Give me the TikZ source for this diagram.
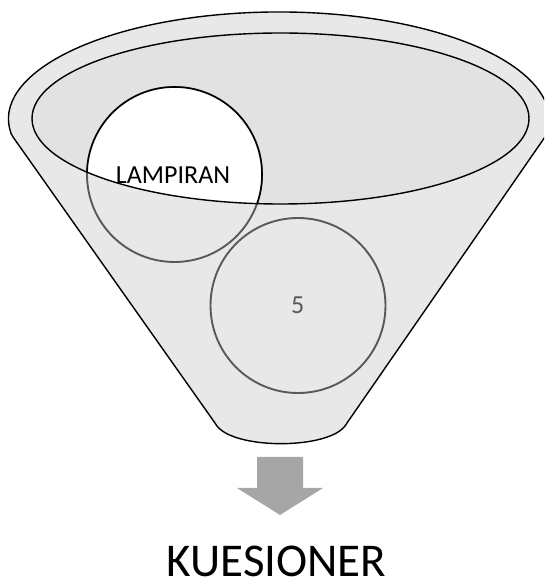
\documentclass[tikz,border=0pt]{standalone}
\usepackage{fontspec}
\setmainfont{Carlito}
\definecolor{funnelfill}{HTML}{E8E8E8}
\definecolor{mouthfill}{HTML}{E2E2E2}
\definecolor{ringgray}{HTML}{595959}
\definecolor{arrowgray}{HTML}{A6A6A6}
\tikzset{
  funnelline/.style={draw=black, line width=1.4pt, line join=round},
  ring/.style={draw=ringgray, line width=1.9pt},
  toppart/.style={draw=black, line width=1.6pt, fill=white},
  label/.style={font=\fontsize{26}{30}\selectfont, inner sep=0pt},
}
\begin{document}
\begin{tikzpicture}[x=1pt,y=1pt]
  \useasboundingbox (0,0) rectangle (544,584);
  \clip (0,0) rectangle (544,584);

  % funnel body: upper rim arc, two slanted sides, rounded bottom
  \path[funnelline, fill=funnelfill, rounded corners=2pt]
    (11.6,449) arc[start angle=188, end angle=-8, x radius=270, y radius=108]
    -- (347,161)
    .. controls (330,134) and (232,134) .. (215,161) -- cycle;

  % mouth of the funnel
  \fill[mouthfill] (280.5,465.5) ellipse[x radius=248.5, y radius=85.5];

  % second circle
  \node[circle, ring, minimum size=175pt, inner sep=0pt] (c5) at (298,278.5) {};
  \node[label, text=ringgray, anchor=base] (n5) at (297.7,270.7) {5};

  % first circle: grey outline below the rim, white and black inside the mouth
  \node[circle, ring, minimum size=175pt, inner sep=0pt] (c1) at (174.5,409.5) {};
  \begin{scope}
    \clip (280.5,465.5) ellipse[x radius=248.5, y radius=85.5];
    \draw[toppart] (174.5,409.5) circle[radius=87.5];
  \end{scope}

  % rim of the mouth
  \draw[funnelline] (280.5,465.5) ellipse[x radius=248.5, y radius=85.5];

  \node[label, anchor=base] (lamp) at (173,400.7) {LAMPIRAN};

  % output arrow
  \fill[arrowgray] (257,127) -- (303,127) -- (303,96) -- (323,96)
    -- (280,69) -- (237,96) -- (257,96) -- cycle;

  \node[font=\fontsize{47}{54}\selectfont, inner sep=0pt, text depth=0pt, anchor=base] (out) at (276.5,7) {KUESIONER};
\end{tikzpicture}
\end{document}
